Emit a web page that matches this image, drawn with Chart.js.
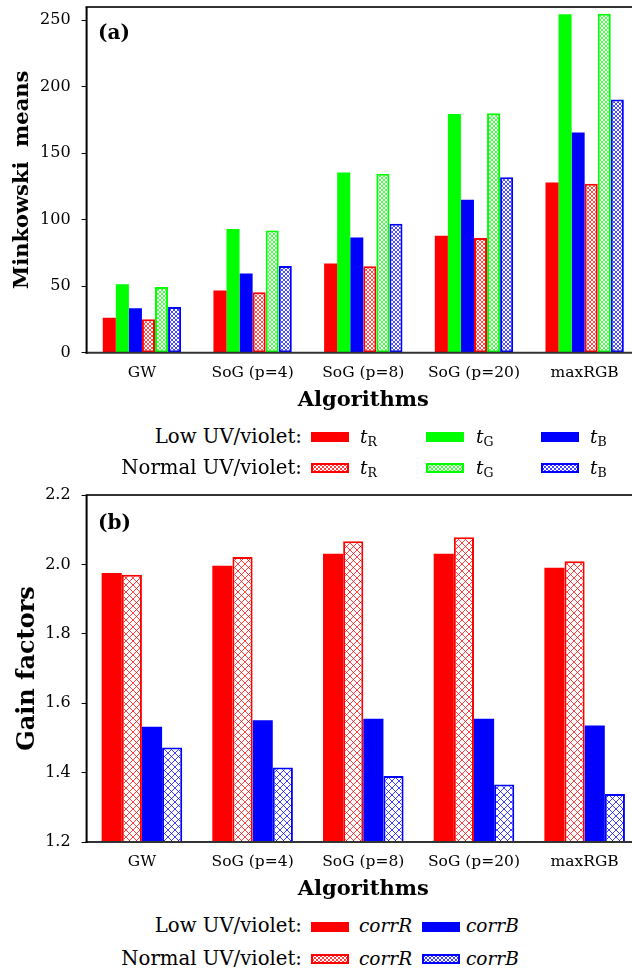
<!DOCTYPE html>
<html>
<head>
<meta charset="utf-8">
<script src="https://cdn.jsdelivr.net/npm/chart.js@4.4.1/dist/chart.umd.min.js"></script>
<style>
  html, body { margin: 0; padding: 0; background: #fff; width: 632px; height: 973px; overflow: hidden; position: relative; }
  canvas.chart { position: absolute; left: 0; }
  .t { position: absolute; font-family: 'DejaVu Serif', serif; color: #000; white-space: nowrap; }
  .lab { font-size: 19.7px; line-height: 20px; }
  .it { font-size: 18.5px; line-height: 20px; }
  .panel { font-weight: bold; font-size: 20px; line-height: 24px; }
  .sw { position: absolute; }
  sub { font-size: 12.5px; vertical-align: -3px; font-style: normal; }
</style>
</head>
<body>
<canvas id="c1" class="chart" width="660" height="420" style="top:0px"></canvas>
<canvas id="c2" class="chart" width="660" height="430" style="top:480px"></canvas>

<div class="t panel" style="left:98px; top:20px;">(a)</div>
<div class="t panel" style="left:98px; top:510px;">(b)</div>

<!-- legend (a) -->
<div class="t lab" style="right:330px; top:427px; text-align:right;">Low UV/violet:</div>
<div class="t lab" style="right:330px; top:458px; text-align:right;">Normal UV/violet:</div>
<div class="t it" style="left:360px; top:427px;"><i>t</i><sub>R</sub></div>
<div class="t it" style="left:476px; top:427px;"><i>t</i><sub>G</sub></div>
<div class="t it" style="left:590px; top:427px;"><i>t</i><sub>B</sub></div>
<div class="t it" style="left:360px; top:458px;"><i>t</i><sub>R</sub></div>
<div class="t it" style="left:476px; top:458px;"><i>t</i><sub>G</sub></div>
<div class="t it" style="left:590px; top:458px;"><i>t</i><sub>B</sub></div>

<!-- legend (b) -->
<div class="t lab" style="right:330px; top:916px; text-align:right;">Low UV/violet:</div>
<div class="t lab" style="right:330px; top:949px; text-align:right;">Normal UV/violet:</div>
<div class="t it" style="left:359px; top:916px;"><i>corrR</i></div>
<div class="t it" style="left:466px; top:916px;"><i>corrB</i></div>
<div class="t it" style="left:359px; top:949px;"><i>corrR</i></div>
<div class="t it" style="left:466px; top:949px;"><i>corrB</i></div>

<script>
// ---------- data ----------
const categories = ['GW', 'SoG (p=4)', 'SoG (p=8)', 'SoG (p=20)', 'maxRGB'];
// panel (a): Minkowski means
const lowR  = [26.3, 46.8, 67.0, 88.0, 128.0];
const lowG  = [51.5, 93.0, 135.6, 179.6, 254.6];
const lowB  = [33.5, 59.6, 86.6, 115.0, 165.6];
const normR = [25.1, 45.5, 65.0, 86.3, 127.0];
const normG = [49.5, 92.0, 134.6, 180.0, 255.0];
const normB = [34.3, 65.3, 97.0, 132.0, 190.5];
const ticksA = [0, 50, 100, 150, 200, 250];
// panel (b): Gain factors
const corrRLow  = [1.975, 1.996, 2.031, 2.031, 1.990];
const corrRNorm = [1.970, 2.021, 2.067, 2.078, 2.009];
const corrBLow  = [1.532, 1.551, 1.555, 1.555, 1.536];
const corrBNorm = [1.472, 1.415, 1.390, 1.366, 1.338];
const ticksB = [1.2, 1.4, 1.6, 1.8, 2.0, 2.2];

const RED = '#ff0000', GREEN = '#00ff00', BLUE = '#0000ff';
const FONT = "'DejaVu Serif', serif";

function hatchTile(color, size, lw, alpha) {
  const c = document.createElement('canvas');
  c.width = size; c.height = size;
  const x = c.getContext('2d');
  x.fillStyle = '#fff'; x.fillRect(0, 0, size, size);
  x.globalAlpha = alpha;
  x.strokeStyle = color; x.lineWidth = lw;
  x.beginPath();
  x.moveTo(-1, -1); x.lineTo(size + 1, size + 1);
  x.moveTo(size + 1, -1); x.lineTo(-1, size + 1);
  x.stroke();
  return c;
}
const helper = document.createElement('canvas').getContext('2d');
function hatch(color, size, lw, alpha) {
  return helper.createPattern(hatchTile(color, size, lw, alpha), 'repeat');
}

// swatches
function swatch(left, top, color, hatched, size) {
  const c = document.createElement('canvas');
  c.width = 38; c.height = 10; c.className = 'sw';
  c.style.left = left + 'px'; c.style.top = top + 'px';
  const x = c.getContext('2d');
  if (hatched) {
    x.fillStyle = x.createPattern(hatchTile(color, size, 1, 0.75), 'repeat');
    x.fillRect(0, 0, 38, 10);
    x.strokeStyle = color; x.lineWidth = 2;
    x.strokeRect(1, 1, 36, 8);
  } else {
    x.fillStyle = color; x.fillRect(0, 0, 38, 10);
  }
  document.body.appendChild(c);
}
swatch(311, 432, RED, false); swatch(426, 432, GREEN, false); swatch(541, 432, BLUE, false);
swatch(311, 463, RED, true, 4); swatch(426, 463, GREEN, true, 4); swatch(541, 463, BLUE, true, 4);
swatch(311, 922, RED, false); swatch(422, 922, BLUE, false);
swatch(311, 954, RED, true, 4); swatch(422, 954, BLUE, true, 4);

// frame plugin: left axis, bottom axis, top border
const framePlugin = {
  id: 'frame',
  afterDatasetsDraw(chart) {
    const {ctx, chartArea: a} = chart;
    ctx.save();
    ctx.lineWidth = 2;
    ctx.strokeStyle = '#333';
    ctx.beginPath(); ctx.moveTo(a.left - 1, a.top); ctx.lineTo(a.right, a.top); ctx.stroke();
    ctx.beginPath(); ctx.moveTo(a.left - 1, a.bottom); ctx.lineTo(a.right, a.bottom); ctx.stroke();
    ctx.strokeStyle = '#000';
    ctx.beginPath(); ctx.moveTo(a.left, a.top); ctx.lineTo(a.left, a.bottom + 1); ctx.stroke();
    ctx.restore();
  }
};

function makeChart(id, datasets, catPct, yOpts, yTitle, yTitleSize, yTitlePad, padTop, padBottom) {
  return new Chart(document.getElementById(id), {
    type: 'bar',
    data: { labels: categories, datasets },
    options: {
      responsive: false, animation: false, devicePixelRatio: 1,
      layout: { padding: { top: padTop, bottom: padBottom, left: 0, right: 20 } },
      datasets: { bar: { categoryPercentage: catPct, barPercentage: 1 } },
      plugins: { legend: { display: false }, tooltip: { enabled: false } },
      scales: {
        x: {
          grid: { display: false, drawTicks: false },
          border: { display: false },
          ticks: { color: '#000', font: { family: FONT, size: 15.5 }, padding: 11 },
          title: { display: true, text: 'Algorithms', color: '#000',
                   font: { family: FONT, size: 21, weight: 'bold' }, padding: { top: 0, bottom: 0 } },
          afterFit(s) { s.height = 60; s.paddingLeft = 0; s.paddingRight = 0; }
        },
        y: Object.assign({
          grid: { drawOnChartArea: false, drawTicks: true, tickLength: 5, color: '#000' },
          border: { display: false },
          title: { display: true, text: yTitle, color: '#000',
                   font: { family: FONT, size: yTitleSize, weight: 'bold' }, padding: { top: yTitlePad, bottom: 0 } },
          afterFit(s) { s.width = 86.6; s.paddingTop = 0; s.paddingBottom = 0; }
        }, yOpts)
      }
    },
    plugins: [framePlugin]
  });
}

const hA = (c) => hatch(c, 4, 1, 0.7);
makeChart('c1', [
  { data: lowR,  backgroundColor: RED,   borderWidth: 0 },
  { data: lowG,  backgroundColor: GREEN, borderWidth: 0 },
  { data: lowB,  backgroundColor: BLUE,  borderWidth: 0 },
  { data: normR, backgroundColor: hA(RED),   borderColor: RED,   borderWidth: 2, borderSkipped: false },
  { data: normG, backgroundColor: hA(GREEN), borderColor: GREEN, borderWidth: 2, borderSkipped: false },
  { data: normB, backgroundColor: hA(BLUE),  borderColor: BLUE,  borderWidth: 2, borderSkipped: false }
], 0.708, {
  min: 0, max: 260,
  afterBuildTicks(s) { s.ticks = ticksA.map(v => ({ value: v })); },
  ticks: { color: '#000', font: { family: FONT, size: 16 }, padding: 11 }
}, 'Minkowski  means', 21, 10, 7, 7.3);

const hB = (c) => hatch(c, 7, 1, 0.75);
makeChart('c2', [
  { data: corrRLow,  backgroundColor: RED,  borderWidth: 0 },
  { data: corrRNorm, backgroundColor: hB(RED),  borderColor: RED,  borderWidth: 2, borderSkipped: false },
  { data: corrBLow,  backgroundColor: BLUE, borderWidth: 0 },
  { data: corrBNorm, backgroundColor: hB(BLUE), borderColor: BLUE, borderWidth: 2, borderSkipped: false }
], 0.728, {
  min: 1.2, max: 2.2,
  afterBuildTicks(s) { s.ticks = ticksB.map(v => ({ value: v })); },
  ticks: { color: '#000', font: { family: FONT, size: 16 }, padding: 11, callback: (v) => Number(v).toFixed(1) }
}, 'Gain factors', 24, 13, 15, 8);
</script>
</body>
</html>
